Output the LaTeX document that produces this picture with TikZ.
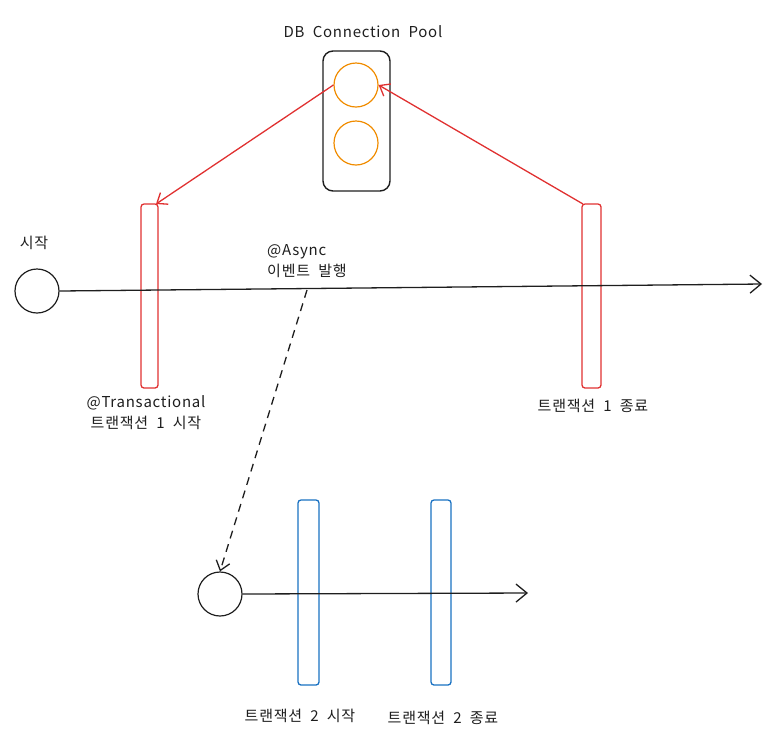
\documentclass[tikz,border=0pt]{standalone}
\usepackage{fontspec}
\setmainfont{Noto Sans CJK KR}[LetterSpace=5,WordSpace=2]
\usetikzlibrary{arrows.meta}
\definecolor{exred}{HTML}{E03131}
\definecolor{exorange}{HTML}{F08C00}
\definecolor{exblue}{HTML}{1971C2}
\definecolor{exblack}{HTML}{1E1E1E}
\tikzset{
  lbl/.style={font=\fontsize{15}{21}\selectfont, text=exblack, inner sep=0pt, align=center},
  startc/.style={circle, draw=exblack, line width=1.2pt, minimum size=44pt, inner sep=0pt},
  poolc/.style={circle, draw=exorange, line width=1.2pt, minimum size=44pt, inner sep=0pt},
  redbar/.style={draw=exred, line width=1.3pt, rounded corners=3pt},
  bluebar/.style={draw=exblue, line width=1.3pt, rounded corners=3pt},
  barb/.style={-{Straight Barb[length=11pt,width=18pt,line width=1.3pt]}},
  flow/.style={draw=exblack, line width=1.3pt, barb},
  redflow/.style={draw=exred, line width=1.3pt, -{Straight Barb[length=9pt,width=14pt,line width=1.3pt]}},
}
\begin{document}
\begin{tikzpicture}[x=1pt,y=-1pt]
\useasboundingbox (0,0) rectangle (781,748);
% DB pool
\node[lbl] (title) at (363,32) {DB Connection Pool};
\draw[draw=exblack, line width=1.4pt, rounded corners=10pt] (323,51) rectangle (390,191);
\node[poolc] (c1) at (356,85) {};
\node[poolc] (c2) at (356,143) {};
% main timeline
\node[startc] (s1) at (37,291) {};
\node[lbl] (lstart) at (34,243) {시작};
\coordinate (end1) at (762,284);
\draw[redbar] (141,204) rectangle (158,388);
\draw[redbar] (582,204) rectangle (601,388);
\coordinate (r1top) at (156,204);
\coordinate (r2top) at (583,204);
\draw[flow] (s1.east) -- (end1);
\node[lbl, align=left, anchor=west] (async) at (267,261) {@Async\\이벤트 발행};
\node[lbl] (t1s) at (146,413) {@Transactional\\트랜잭션 1 시작};
\node[lbl] (t1e) at (593,406) {트랜잭션 1 종료};
% red arrows
\draw[redflow] (c1.west) -- (r1top);
\draw[redflow] (r2top) -- (c1.east);
% second timeline
\node[startc] (s2) at (220,594) {};
\coordinate (ev) at (307,290);
\draw[draw=exblack, line width=1.3pt, dash pattern=on 8pt off 6pt, -{Straight Barb[length=9pt,width=14pt,line width=1.3pt]}] (ev) -- (s2.north);
\coordinate (end2) at (528,593);
\draw[bluebar] (298,500) rectangle (319,685);
\draw[bluebar] (431,500) rectangle (451,685);
\draw[flow] (s2.east) -- (end2);
\node[lbl] (t2s) at (300,716) {트랜잭션 2 시작};
\node[lbl] (t2e) at (443,718) {트랜잭션 2 종료};
\end{tikzpicture}
\end{document}
